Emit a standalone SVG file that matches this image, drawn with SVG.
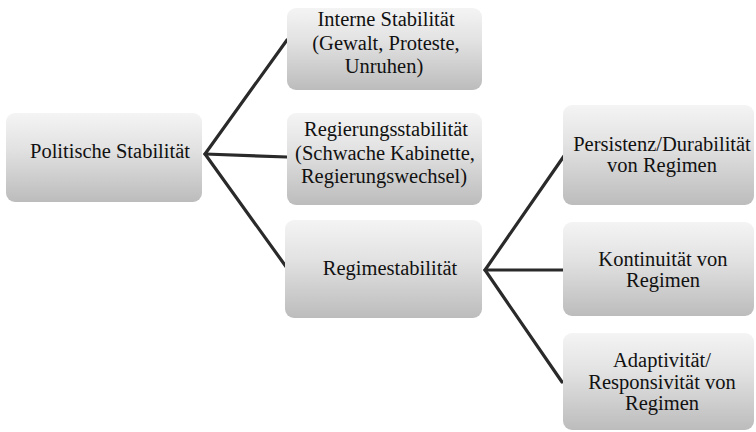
<svg xmlns="http://www.w3.org/2000/svg" width="756" height="432" viewBox="0 0 756 432">
  <defs>
    <linearGradient id="boxGrad" x1="0" y1="0" x2="0" y2="1">
      <stop offset="0" stop-color="#f4f4f4"/>
      <stop offset="0.4" stop-color="#e2e2e2"/>
      <stop offset="1" stop-color="#bcbcbc"/>
    </linearGradient>
  </defs>
  <style>
    .box { fill: url(#boxGrad); }
    .lbl { font-family: 'Liberation Serif', 'DejaVu Serif', serif; font-size: 20.5px; fill: #111; text-anchor: middle; }
    .conn { stroke: #2a2a2a; stroke-width: 3.2; fill: none; stroke-linecap: round; stroke-linejoin: miter; }
  </style>
  <rect width="756" height="432" fill="#ffffff"/>

  <g id="connectors">
    <polyline class="conn" points="287,40 205,154 287,268"/>
    <line class="conn" x1="205" y1="154" x2="287" y2="157"/>
    <polyline class="conn" points="564,156 485,270 562,382"/>
    <line class="conn" x1="485" y1="270" x2="564" y2="270"/>
  </g>

  <g id="politische-stabilitaet">
    <rect class="box" x="6" y="113" width="196" height="89" rx="9"/>
    <text class="lbl" font-family="Liberation Serif, serif" x="110" y="158">Politische Stabilität</text>
  </g>

  <g id="interne-stabilitaet">
    <rect class="box" x="287" y="8" width="195" height="82" rx="9"/>
    <text class="lbl" font-family="Liberation Serif, serif" x="386" y="26">Interne Stabilität</text>
    <text class="lbl" font-family="Liberation Serif, serif" x="386" y="50">(Gewalt, Proteste,</text>
    <text class="lbl" font-family="Liberation Serif, serif" x="384" y="73">Unruhen)</text>
  </g>

  <g id="regierungsstabilitaet">
    <rect class="box" x="287" y="113" width="195" height="92" rx="9"/>
    <text class="lbl" font-family="Liberation Serif, serif" x="386" y="136">Regierungsstabilität</text>
    <text class="lbl" font-family="Liberation Serif, serif" x="385" y="160">(Schwache Kabinette,</text>
    <text class="lbl" font-family="Liberation Serif, serif" x="384" y="183">Regierungswechsel)</text>
  </g>

  <g id="regimestabilitaet">
    <rect class="box" x="285" y="220" width="197" height="98" rx="9"/>
    <text class="lbl" font-family="Liberation Serif, serif" x="390" y="275">Regimestabilität</text>
  </g>

  <g id="persistenz">
    <rect class="box" x="563" y="105" width="191" height="100" rx="9"/>
    <text class="lbl" font-family="Liberation Serif, serif" x="662" y="151">Persistenz/Durabilität</text>
    <text class="lbl" font-family="Liberation Serif, serif" x="662" y="172">von Regimen</text>
  </g>

  <g id="kontinuitaet">
    <rect class="box" x="563" y="222" width="191" height="94" rx="9"/>
    <text class="lbl" font-family="Liberation Serif, serif" x="663" y="266">Kontinuität von</text>
    <text class="lbl" font-family="Liberation Serif, serif" x="663" y="287">Regimen</text>
  </g>

  <g id="adaptivitaet">
    <rect class="box" x="563" y="333" width="191" height="97" rx="9"/>
    <text class="lbl" font-family="Liberation Serif, serif" x="662" y="367">Adaptivität/</text>
    <text class="lbl" font-family="Liberation Serif, serif" x="662" y="389">Responsivität von</text>
    <text class="lbl" font-family="Liberation Serif, serif" x="662" y="410">Regimen</text>
  </g>
</svg>
